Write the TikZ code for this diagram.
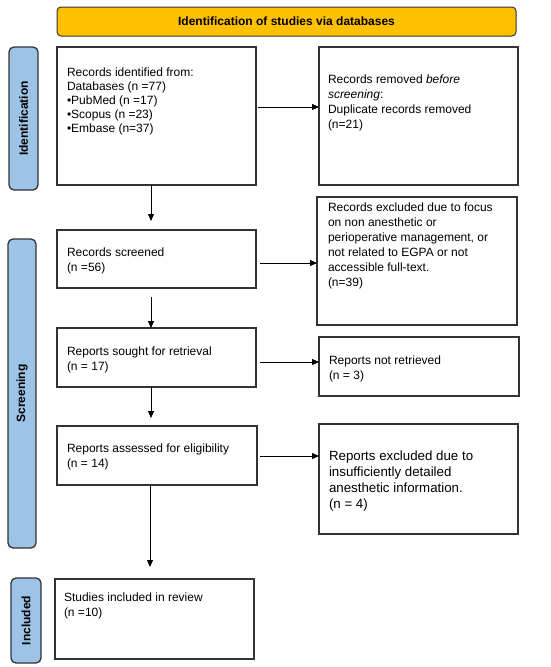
\documentclass[tikz,border=0pt]{standalone}
\usepackage{fontspec}
\setmainfont{Liberation Sans}
\usetikzlibrary{arrows.meta,calc}
\definecolor{bannerfill}{HTML}{FFC000}
\definecolor{sidefill}{HTML}{9DC3E6}
\definecolor{edge}{HTML}{333333}
\begin{document}
\begin{tikzpicture}[x=1pt,y=-1pt,
  box/.style={draw=edge,line width=1.3pt,anchor=north west,inner sep=0pt,outer sep=0pt},
  banner/.style={box,fill=bannerfill,rounded corners=4pt,line width=1pt},
  side/.style={box,fill=sidefill,rounded corners=5pt,line width=1.3pt},
  sidetext/.style={rotate=90,font=\bfseries\fontsize{12}{14}\selectfont,inner sep=0pt},
  txt/.style={anchor=north west,inner sep=0pt,outer sep=0pt,align=left,font=\fontsize{12}{15}\selectfont},
  arr/.style={-{Triangle[length=7pt,width=6pt]},line width=0.9pt,black}]
\useasboundingbox (0,0) rectangle (550,667);
% banner
\node[banner,minimum width=459pt,minimum height=29pt] (ban) at (57,7) {};
\node[font=\bfseries\fontsize{12}{14}\selectfont,inner sep=0pt] (bant) at (ban.center) {Identification of studies via databases};
% side labels
\node[side,minimum width=29pt,minimum height=143pt] (sid) at (9,47) {};
\node[sidetext] (sidt) at (sid.center) {Identification};
\node[side,minimum width=28pt,minimum height=309pt] (sscr) at (8,239) {};
\node[sidetext] (sscrt) at (sscr.center) {Screening};
\node[side,minimum width=30pt,minimum height=85pt] (sinc) at (11,578) {};
\node[sidetext] (sinct) at (sinc.center) {Included};
% boxes
\node[box,minimum width=199pt,minimum height=138pt] (b1) at (57,47) {};
\node[box,minimum width=199pt,minimum height=138pt] (r1) at (319,47) {};
\node[box,minimum width=199pt,minimum height=58pt] (b2) at (57,230) {};
\node[box,minimum width=200pt,minimum height=128pt] (r2) at (317,197) {};
\node[box,minimum width=199pt,minimum height=59pt] (b3) at (57,328) {};
\node[box,minimum width=200pt,minimum height=59pt] (r3) at (319,337) {};
\node[box,minimum width=200pt,minimum height=59pt] (b4) at (57,426) {};
\node[box,minimum width=199pt,minimum height=110pt] (r4) at (319,424) {};
\node[box,minimum width=199pt,minimum height=80pt] (b5) at (55,579) {};
% texts (top = first baseline - 9pt)
\node[txt,font=\fontsize{12}{14.2}\selectfont] (b1t) at (67,67) {\rule{0pt}{9pt}Records identified from:\\Databases (n =77)\\•PubMed (n =17)\\•Scopus (n =23)\\•Embase (n=37)};
\node[txt] (r1t) at (328,74) {\rule{0pt}{9pt}Records removed \textit{before}\\\textit{screening}:\\Duplicate records removed\\(n=21)};
\node[txt] (r2t) at (328,202) {\rule{0pt}{9pt}Records excluded due to focus\\on non anesthetic or\\perioperative management, or\\not related to EGPA or not\\accessible full-text.\\(n=39)};
\node[txt] (b2t) at (67,247) {\rule{0pt}{9pt}Records screened\\(n =56)};
\node[txt] (b3t) at (67,346) {\rule{0pt}{9pt}Reports sought for retrieval\\(n = 17)};
\node[txt] (r3t) at (329,355) {\rule{0pt}{9pt}Reports not retrieved\\(n = 3)};
\node[txt] (b4t) at (67,443) {\rule{0pt}{9pt}Reports assessed for eligibility\\(n = 14)};
\node[txt,font=\fontsize{13.3}{16}\selectfont] (r4t) at (329,450.5) {\rule{0pt}{10pt}Reports excluded due to\\insufficiently detailed\\anesthetic information.\\(n = 4)};
\node[txt] (b5t) at (64,592) {\rule{0pt}{9pt}Studies included in review\\(n =10)};
% connector guides
\coordinate (vx) at (151,0);
\coordinate (vx2) at (150,0);
\coordinate (h1) at (0,107);
\coordinate (h2) at (0,263);
\coordinate (h3) at (0,362);
\coordinate (h4) at (0,456);
% vertical arrows
\draw[arr,shorten >=9pt] (b1.south -| vx) -- (b2.north -| vx);
\draw[arr,shorten <=9pt] (b2.south -| vx) -- (b3.north -| vx);
\draw[arr,shorten >=8pt] (b3.south -| vx) -- (b4.north -| vx);
\draw[arr,shorten >=12pt] (b4.south -| vx2) -- (b5.north -| vx2);
% horizontal arrows
\draw[arr,shorten <=2pt] (b1.east |- h1) -- (r1.west |- h1);
\draw[arr,shorten <=4pt] (b2.east |- h2) -- (r2.west |- h2);
\draw[arr,shorten <=4pt] (b3.east |- h3) -- (r3.west |- h3);
\draw[arr,shorten <=3pt] (b4.east |- h4) -- (r4.west |- h4);
\end{tikzpicture}
\end{document}
